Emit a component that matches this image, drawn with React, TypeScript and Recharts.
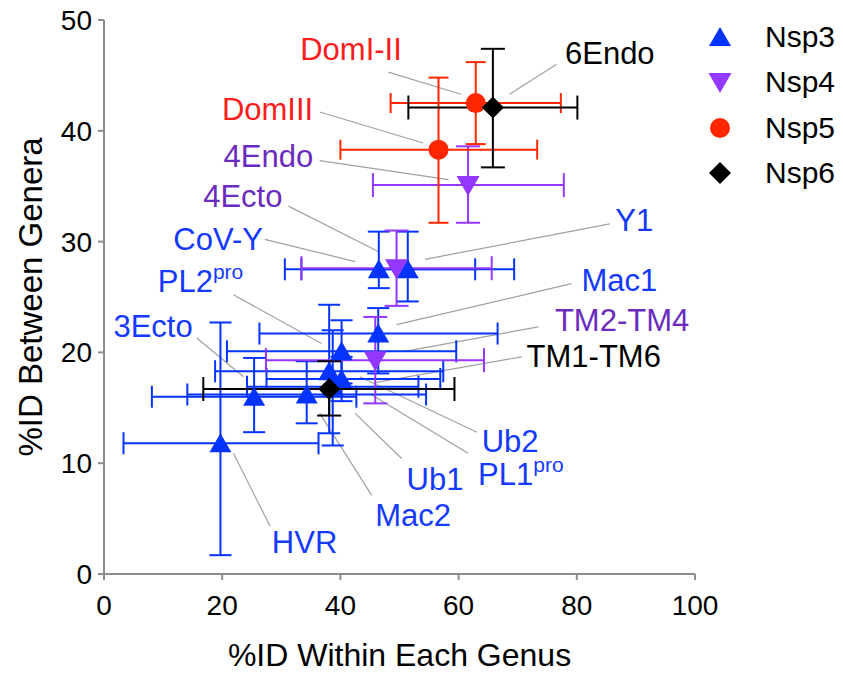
import { ScatterChart, Scatter, XAxis, YAxis, ErrorBar, ReferenceLine, Legend } from 'recharts'

const FONT = '"Liberation Sans", Arial, Helvetica, sans-serif'

type Pt = { name: string; x: number; y: number; ex: [number, number]; ey: [number, number] }

// domain means, error offsets are [minus, plus]
const nsp3: Pt[] = [
  { name: 'CoV-Y', x: 46.5, y: 27.5, ex: [15.9, 16.3], ey: [1.7, 3.4] },
  { name: 'Y1', x: 51.4, y: 27.5, ex: [18.0, 18.0], ey: [2.9, 3.4] },
  { name: 'Mac1', x: 46.4, y: 21.7, ex: [20.1, 20.2], ey: [3.6, 2.3] },
  { name: 'PL2pro', x: 40.2, y: 20.1, ex: [19.4, 19.4], ey: [2.9, 2.8] },
  { name: 'PL1pro', x: 38.1, y: 18.3, ex: [19.3, 19.3], ey: [5.6, 6.0] },
  { name: 'Ub2', x: 40.2, y: 17.6, ex: [12.7, 16.7], ey: [2.0, 2.0] },
  { name: 'Ub1', x: 38.7, y: 16.9, ex: [14.5, 14.5], ey: [5.3, 5.1] },
  { name: 'Mac2', x: 34.3, y: 16.2, ex: [20.2, 20.2], ey: [2.6, 3.0] },
  { name: '3Ecto', x: 25.4, y: 16.0, ex: [17.3, 17.3], ey: [3.2, 3.5] },
  { name: 'HVR', x: 19.7, y: 11.8, ex: [16.4, 16.6], ey: [10.1, 10.9] },
]

const nsp4: Pt[] = [
  { name: '4Endo', x: 61.6, y: 35.1, ex: [16.1, 16.2], ey: [3.4, 3.5] },
  { name: '4Ecto', x: 49.5, y: 27.6, ex: [16.1, 16.1], ey: [3.4, 3.4] },
  { name: 'TM2-TM4', x: 45.9, y: 19.3, ex: [18.5, 18.4], ey: [3.9, 3.9] },
]

const nsp5: Pt[] = [
  { name: 'DomI-II', x: 62.9, y: 42.5, ex: [14.4, 14.4], ey: [3.7, 3.7] },
  { name: 'DomIII', x: 56.6, y: 38.3, ex: [16.6, 16.7], ey: [6.6, 6.5] },
]

const nsp6: Pt[] = [
  { name: '6Endo', x: 65.8, y: 42.1, ex: [14.3, 14.3], ey: [5.4, 5.3] },
  { name: 'TM1-TM6', x: 38.1, y: 16.7, ex: [21.3, 21.2], ey: [2.4, 2.5] },
]

const xTicks = [0, 20, 40, 60, 80, 100]
const yTicks = [0, 10, 20, 30, 40, 50]

// annotation text, in data units
const labels = [
  { text: 'DomI-II', x: 50.4, y: 47.3, anchor: 'end', color: '#ff1c1c' },
  { text: 'DomIII', x: 35.4, y: 41.9, anchor: 'end', color: '#ff1c1c' },
  { text: '4Endo', x: 35.4, y: 37.7, anchor: 'end', color: '#6a2cc0' },
  { text: '4Ecto', x: 30.2, y: 34.1, anchor: 'end', color: '#6a2cc0' },
  { text: 'CoV-Y', x: 26.9, y: 30.2, anchor: 'end', color: '#1439ff' },
  { text: 'PL2', sup: 'pro', x: 9.1, y: 26.4, anchor: 'start', color: '#1439ff' },
  { text: '3Ecto', x: 1.6, y: 22.3, anchor: 'start', color: '#1439ff' },
  { text: '6Endo', x: 78.0, y: 47.0, anchor: 'start', color: '#000000' },
  { text: 'Y1', x: 86.5, y: 31.9, anchor: 'start', color: '#1439ff' },
  { text: 'Mac1', x: 80.8, y: 26.5, anchor: 'start', color: '#1439ff' },
  { text: 'TM2-TM4', x: 76.3, y: 22.9, anchor: 'start', color: '#6a2cc0' },
  { text: 'TM1-TM6', x: 71.5, y: 19.6, anchor: 'start', color: '#000000' },
  { text: 'Ub2', x: 63.9, y: 12.0, anchor: 'start', color: '#1439ff' },
  { text: 'PL1', sup: 'pro', x: 63.3, y: 9.0, anchor: 'start', color: '#1439ff' },
  { text: 'Ub1', x: 51.2, y: 8.5, anchor: 'start', color: '#1439ff' },
  { text: 'Mac2', x: 45.9, y: 5.3, anchor: 'start', color: '#1439ff' },
  { text: 'HVR', x: 28.4, y: 2.8, anchor: 'start', color: '#1439ff' },
]

// leader lines [x1, y1, x2, y2] in data units
const leaders = [
  [48.1, 45.3, 60.4, 43.3],
  [36.5, 41.7, 54.0, 38.9],
  [36.5, 37.3, 58.3, 35.6],
  [31.2, 33.2, 46.4, 29.1],
  [27.2, 30.2, 42.5, 28.2],
  [21.9, 25.2, 36.8, 20.8],
  [15.7, 21.3, 23.6, 17.8],
  [76.6, 46.0, 68.6, 43.3],
  [85.6, 31.6, 54.3, 28.4],
  [79.1, 26.2, 49.5, 22.5],
  [73.5, 22.3, 50.9, 20.1],
  [70.7, 19.6, 46.1, 17.3],
  [63.1, 12.8, 43.3, 17.8],
  [61.6, 10.9, 45.2, 16.2],
  [50.4, 10.4, 42.5, 14.5],
  [45.3, 7.1, 36.5, 14.5],
  [28.1, 4.3, 21.9, 10.9],
]

const series = [
  { name: 'Nsp3', data: nsp3, color: '#0433ff', shape: 'up', cap: 11 },
  { name: 'Nsp4', data: nsp4, color: '#9437ff', shape: 'down', cap: 12 },
  { name: 'Nsp5', data: nsp5, color: '#ff2600', shape: 'circle', cap: 10 },
  { name: 'Nsp6', data: nsp6, color: '#000000', shape: 'diamond', cap: 12 },
]

function Marker({ kind, cx, cy, fill }: { kind: string; cx: number; cy: number; fill: string }) {
  if (kind === 'up') {
    return <polygon points={`${cx},${cy - 10} ${cx + 11},${cy + 9} ${cx - 11},${cy + 9}`} fill={fill} />
  }
  if (kind === 'down') {
    return <polygon points={`${cx - 11.5},${cy - 9} ${cx + 11.5},${cy - 9} ${cx},${cy + 11}`} fill={fill} />
  }
  if (kind === 'circle') return <circle cx={cx} cy={cy} r={10} fill={fill} />
  return <polygon points={`${cx},${cy - 11} ${cx + 11},${cy} ${cx},${cy + 11} ${cx - 11},${cy}`} fill={fill} />
}

const LabelShape = (props: any) => {
  const { cx, cy, payload } = props
  return (
    <text x={cx} y={cy} fill={payload.color} fontSize={31} fontFamily={FONT}
      textAnchor={payload.anchor} dominantBaseline="central">
      {payload.text}
      {payload.sup && <tspan fontSize={21} dy={-10}>{payload.sup}</tspan>}
    </text>
  )
}

const LegendBox = () => (
  <div style={{ fontFamily: FONT }}>
    {series.map(s => (
      <div key={s.name} style={{ display: 'flex', alignItems: 'center', height: 45.5 }}>
        <svg width={44} height={30} style={{ flexShrink: 0 }}>
          <Marker kind={s.shape} cx={22} cy={15} fill={s.color} />
        </svg>
        <span style={{ marginLeft: 23, fontSize: 30, color: '#000' }}>{s.name}</span>
      </div>
    ))}
  </div>
)

const YTitle = ({ viewBox }: any) => (
  <text x={22} y={viewBox.y + viewBox.height / 2} transform={`rotate(-90, 22, ${viewBox.y + viewBox.height / 2})`}
    textAnchor="middle" dominantBaseline="central" fontSize={33} fontFamily={FONT} fill="#000">
    %ID Between Genera
  </text>
)

const XTitle = ({ viewBox }: any) => (
  <text x={viewBox.x + viewBox.width / 2} y={viewBox.y + 81} textAnchor="middle" dominantBaseline="central"
    fontSize={32} fontFamily={FONT} fill="#000">
    %ID Within Each Genus
  </text>
)

const axisStroke = { stroke: '#8c8c8c', strokeWidth: 2 }

export default function App() {
  // pull the chart up over the body margin so the top tick label has room
  return (
    <div style={{ marginTop: -8 }}>
      <ScatterChart width={835} height={677} margin={{ top: 20, right: 148, bottom: 43, left: 36 }}>
        <XAxis type="number" dataKey="x" domain={[0, 100]} ticks={xTicks} interval={0}
          height={60} axisLine={axisStroke} tickLine={axisStroke} tickSize={6} tickMargin={15}
          tick={{ fill: '#000', fontSize: 28, fontFamily: FONT }} label={XTitle} />
        <YAxis type="number" dataKey="y" domain={[0, 50]} ticks={yTicks} interval={0}
          width={60} axisLine={axisStroke} tickLine={axisStroke} tickSize={6} tickMargin={6}
          tick={{ fill: '#000', fontSize: 28, fontFamily: FONT }} label={YTitle} />
        <Legend layout="horizontal" verticalAlign="middle" align="center" content={LegendBox}
          wrapperStyle={{ position: 'absolute', top: 14, left: 690, width: 150 }} />
        {leaders.map(([x1, y1, x2, y2], i) => (
          <ReferenceLine key={`ld-${i}`} segment={[{ x: x1, y: y1 }, { x: x2, y: y2 }]}
            stroke="#a0a0a0" strokeWidth={1.2} ifOverflow="visible" />
        ))}
        {series.map(s => (
          <Scatter key={s.name} name={s.name} data={s.data} fill={s.color} isAnimationActive={false}
            shape={(p: any) => <Marker kind={s.shape} cx={p.cx} cy={p.cy} fill={s.color} />}>
            <ErrorBar dataKey="ex" direction="x" stroke={s.color} strokeWidth={2} width={s.cap} />
            <ErrorBar dataKey="ey" direction="y" stroke={s.color} strokeWidth={2} width={s.cap} />
          </Scatter>
        ))}
        <Scatter name="labels" data={labels} isAnimationActive={false} shape={LabelShape} legendType="none" />
      </ScatterChart>
    </div>
  )
}
